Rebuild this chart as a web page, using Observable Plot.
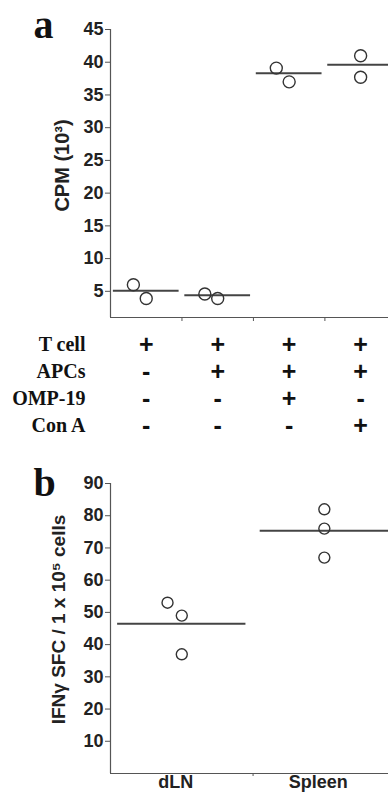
<!DOCTYPE html>
<html>
<head>
<meta charset="utf-8">
<script src="https://cdn.jsdelivr.net/npm/d3@7"></script>
<script src="https://cdn.jsdelivr.net/npm/@observablehq/plot@0.6"></script>
<style>
  html, body { margin: 0; padding: 0; background: white; }
  #chart { width: 388px; height: 792px; overflow: hidden; }
  #chart svg { display: block; }
</style>
</head>
<body>
<div id="chart"></div>
<script>
// ---- Panel a data ----
const cpmGroup  = [1, 1, 2, 2, 3, 3, 4, 4];
const cpmOffset = [-0.18, 0, -0.18, 0, -0.18, 0, 0, 0];
const cpmValue  = [6.0, 3.9, 4.6, 3.9, 39.1, 37.0, 41.0, 37.7];
const cpmMean   = [5.1, 4.4, 38.3, 39.6];
const cpmTicks  = [5, 10, 15, 20, 25, 30, 35, 40, 45];

// ---- Condition table ----
const rowLabels = ["T cell", "APCs", "OMP-19", "Con A"];
const conditions = [
  ["+", "+", "+", "+"],
  ["-", "+", "+", "+"],
  ["-", "-", "+", "-"],
  ["-", "-", "-", "+"]
];

// ---- Panel b data ----
const sfcGroup  = [1, 1, 1, 2, 2, 2];
const sfcOffset = [-0.1, 0, 0, 0, 0, 0];
const sfcValue  = [53, 49, 37, 82, 76, 67];
const sfcMean   = [46.5, 75.3];
const sfcLabels = ["dLN", "Spleen"];
const sfcTicks  = [10, 20, 30, 40, 50, 60, 70, 80, 90];

const xDomainA = [0.5, 4.39], yDomainA = [1, 45];
const xDomainB = [0.5, 2.45], yDomainB = [0, 90];

const sans = "'Liberation Sans', Arial, Helvetica, sans-serif";
const serif = "'Liberation Serif', 'Times New Roman', serif";
const ink = "#222";

const pointsA = cpmValue.map((v, i) => ({g: cpmGroup[i], o: cpmOffset[i], v}));
const meansA = cpmMean.map((v, i) => ({g: i + 1, v}));
const pointsB = sfcValue.map((v, i) => ({g: sfcGroup[i], o: sfcOffset[i], v}));
const meansB = sfcMean.map((v, i) => ({g: i + 1, v}));
const cells = [];
conditions.forEach((row, r) => row.forEach((s, c) => cells.push({row: rowLabels[r], g: c + 1, s})));

const baseStyle = {fontFamily: sans, fontWeight: "bold", color: ink, background: "white", overflow: "hidden"};

const plotA = Plot.plot({
  width: 388, height: 330,
  marginLeft: 110, marginRight: 0, marginTop: 29, marginBottom: 13,
  style: {...baseStyle, fontSize: "18px"},
  x: {domain: xDomainA, axis: null},
  y: {domain: yDomainA, axis: null},
  marks: [
    Plot.axisY({ticks: cpmTicks, tickSize: 5, tickPadding: 2, label: null, stroke: "#555", fill: ink, fontSize: 18, fontWeight: "bold"}),
    Plot.axisX({ticks: [1.5, 2.5, 3.5], tickFormat: () => "", tickSize: 4, label: null, stroke: "#555"}),
    Plot.ruleX([xDomainA[0]], {y1: yDomainA[0], y2: yDomainA[1], stroke: "#555", strokeWidth: 1.2}),
    Plot.ruleY([yDomainA[0]], {stroke: "#555", strokeWidth: 1.2}),
    Plot.ruleY(meansA, {y: "v", x1: d => d.g - 0.46, x2: d => d.g + 0.46, stroke: "#444", strokeWidth: 2}),
    Plot.dot(pointsA, {x: d => d.g + d.o, y: "v", r: 6, stroke: "#333", strokeWidth: 1.4, fill: "none"}),
    Plot.text(["a"], {frameAnchor: "top-left", dx: -77, dy: 8, lineAnchor: "bottom", textAnchor: "start", fontFamily: serif, fontSize: 40, fontWeight: "bold", fill: "#111"}),
    Plot.text(["CPM (10³)"], {frameAnchor: "left", textAnchor: "middle", rotate: -90, dx: -48, dy: -8, fontSize: 20, fontWeight: "bold", fill: ink})
  ]
});

const plotT = Plot.plot({
  width: 388, height: 110,
  marginLeft: 110, marginRight: 0, marginTop: 14, marginBottom: 15,
  style: {...baseStyle, fontSize: "20px"},
  x: {domain: xDomainA, axis: null},
  y: {type: "point", domain: rowLabels, range: [14, 95], padding: 0, axis: null},
  marks: [
    Plot.axisY({tickSize: 0, tickPadding: 25, label: null, fontFamily: serif, fontSize: 20, fontWeight: "bold", fill: "#111"}),
    Plot.text(cells, {x: "g", y: "row", text: "s", fontSize: 25, fontWeight: "bold", fill: "#111", fontFamily: sans})
  ]
});

const plotB = Plot.plot({
  width: 388, height: 352,
  marginLeft: 110, marginRight: 0, marginTop: 43, marginBottom: 19,
  style: {...baseStyle, fontSize: "18px"},
  x: {domain: xDomainB, axis: null},
  y: {domain: yDomainB, axis: null},
  marks: [
    Plot.axisY({ticks: sfcTicks, tickSize: 5, tickPadding: 2, label: null, stroke: "#555", fill: ink, fontSize: 18, fontWeight: "bold"}),
    Plot.axisX({ticks: [1.5], tickFormat: () => "", tickSize: 3, label: null, stroke: "#555"}),
    Plot.axisX({ticks: [1, 2], tickFormat: d => sfcLabels[d - 1], tickSize: 0, tickPadding: 2, label: null, dx: -6, fontSize: 18, fontWeight: "bold", fill: ink}),
    Plot.ruleX([xDomainB[0]], {y1: yDomainB[0], y2: yDomainB[1], stroke: "#555", strokeWidth: 1.2}),
    Plot.ruleY([yDomainB[0]], {stroke: "#555", strokeWidth: 1.2}),
    Plot.ruleY(meansB, {y: "v", x1: d => d.g - 0.45, x2: d => d.g + 0.45, stroke: "#444", strokeWidth: 2}),
    Plot.dot(pointsB, {x: d => d.g + d.o, y: "v", r: 5.5, stroke: "#333", strokeWidth: 1.4, fill: "none"}),
    Plot.text(["b"], {frameAnchor: "top-left", dx: -77, dy: 12, lineAnchor: "bottom", textAnchor: "start", fontFamily: serif, fontSize: 40, fontWeight: "bold", fill: "#111"}),
    Plot.text(["IFNγ SFC / 1 x 10⁵ cells"], {frameAnchor: "left", textAnchor: "middle", rotate: -90, dx: -52, dy: -9, fontSize: 19, fontWeight: "bold", fill: ink})
  ]
});

const chart = document.getElementById("chart");
chart.append(plotA, plotT, plotB);
</script>
</body>
</html>
